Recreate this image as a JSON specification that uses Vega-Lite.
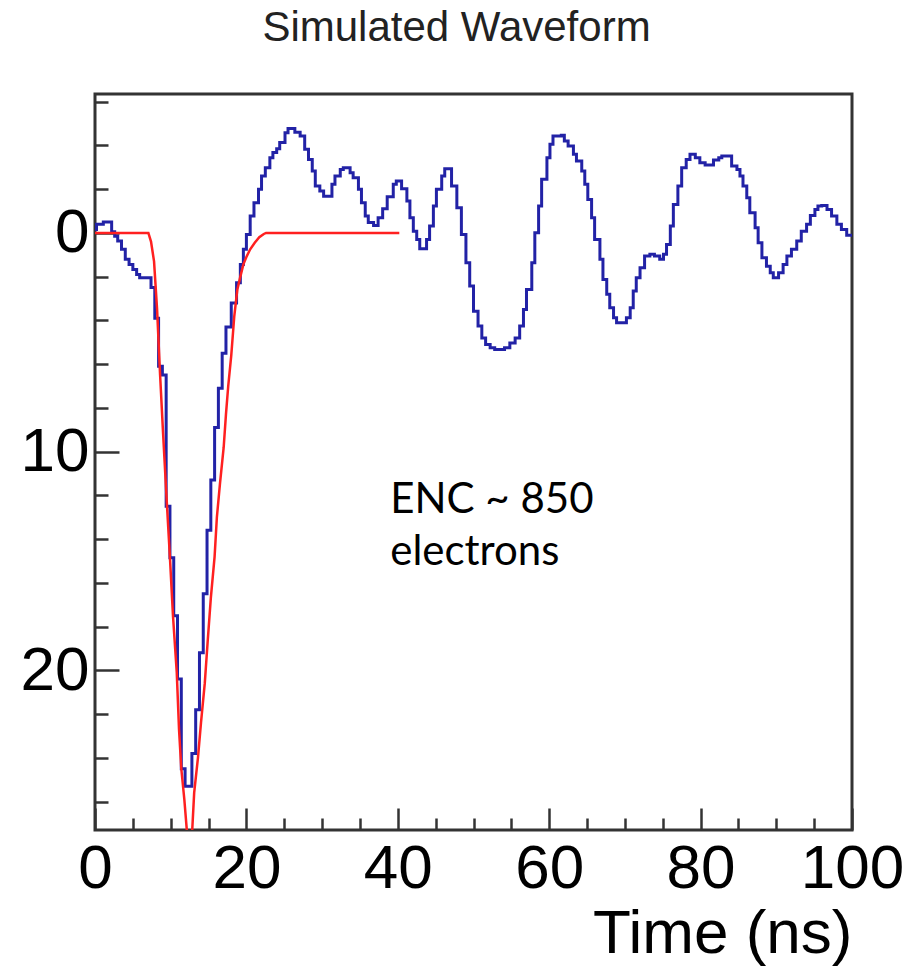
{
  "$schema": "https://vega.github.io/schema/vega-lite/v6.json",
  "width": 757,
  "height": 736,
  "autosize": "none",
  "padding": {"left": 95, "top": 94, "right": 72, "bottom": 137},
  "background": "white",
  "title": {"text": "Simulated Waveform", "font": "Liberation Sans", "fontSize": 42, "fontWeight": "normal", "color": "#222", "anchor": "middle", "dx": -17, "baseline": "bottom", "offset": 2},
  "config": {
    "view": {"stroke": "#333", "strokeWidth": 3},
    "axis": {"domain": false, "grid": false, "tickColor": "#333", "tickWidth": 2.5, "labelFont": "Liberation Sans", "labelColor": "#000"}
  },
  "datasets": {
    "blue": [
      {"t":0,"a":-0.16},{"t":0.2,"a":-0.39},{"t":1.1,"a":-0.5},{"t":2.2,"a":-0.05},{"t":2.6,"a":0.15},{"t":3.0,"a":0.37},{"t":3.5,"a":0.75},{"t":4.0,"a":1.21},{"t":4.5,"a":1.44},{"t":5.0,"a":1.67},{"t":5.5,"a":1.9},{"t":5.9,"a":2.05},{"t":7.4,"a":2.5},{"t":7.9,"a":3.9},{"t":8.4,"a":6.1},{"t":8.9,"a":6.5},{"t":9.4,"a":12.5},{"t":9.9,"a":14.85},{"t":10.4,"a":17.5},{"t":10.9,"a":20.4},{"t":11.4,"a":24.5},{"t":11.9,"a":25.3},{"t":12.8,"a":23.8},{"t":13.3,"a":21.8},{"t":13.8,"a":19.2},{"t":14.3,"a":16.5},{"t":14.8,"a":13.6},{"t":15.3,"a":11.3},{"t":15.8,"a":8.9},{"t":16.3,"a":7.1},{"t":16.8,"a":5.5},{"t":17.3,"a":4.3},{"t":18.0,"a":3.2},{"t":18.7,"a":2.28},{"t":19.2,"a":1.44},{"t":19.6,"a":0.75},{"t":20.0,"a":0.07},{"t":20.5,"a":-0.77},{"t":21.0,"a":-1.38},{"t":21.6,"a":-1.99},{"t":22.0,"a":-2.6},{"t":22.5,"a":-2.98},{"t":23.1,"a":-3.44},{"t":23.5,"a":-3.67},{"t":24.0,"a":-3.85},{"t":24.4,"a":-4.13},{"t":25.1,"a":-4.58},{"t":25.5,"a":-4.77},{"t":26.4,"a":-4.6},{"t":27.1,"a":-4.43},{"t":27.7,"a":-3.82},{"t":28.2,"a":-3.36},{"t":28.7,"a":-2.83},{"t":29.1,"a":-2.14},{"t":29.7,"a":-1.91},{"t":30.2,"a":-1.68},{"t":31.3,"a":-2.22},{"t":31.7,"a":-2.6},{"t":32.4,"a":-2.9},{"t":32.8,"a":-2.98},{"t":33.7,"a":-2.75},{"t":34.1,"a":-2.52},{"t":34.8,"a":-1.99},{"t":35.2,"a":-1.38},{"t":35.7,"a":-0.77},{"t":36.1,"a":-0.47},{"t":36.8,"a":-0.34},{"t":37.4,"a":-0.69},{"t":38.0,"a":-1.1},{"t":38.6,"a":-1.65},{"t":39.4,"a":-2.22},{"t":39.8,"a":-2.37},{"t":40.5,"a":-2.02},{"t":41.2,"a":-1.46},{"t":41.6,"a":-0.69},{"t":42.05,"a":-0.08},{"t":42.5,"a":0.3},{"t":42.9,"a":0.72},{"t":43.8,"a":0.3},{"t":44.2,"a":-0.31},{"t":44.7,"a":-1.23},{"t":45.1,"a":-1.99},{"t":45.8,"a":-2.6},{"t":46.2,"a":-2.93},{"t":47.1,"a":-2.14},{"t":47.8,"a":-1.15},{"t":48.4,"a":0.07},{"t":49.0,"a":1.37},{"t":49.5,"a":2.43},{"t":50.0,"a":3.58},{"t":50.6,"a":4.26},{"t":51.1,"a":4.8},{"t":51.6,"a":5.1},{"t":52.2,"a":5.25},{"t":52.8,"a":5.33},{"t":54.1,"a":5.25},{"t":54.8,"a":5.03},{"t":55.5,"a":4.8},{"t":56.1,"a":4.26},{"t":56.6,"a":3.5},{"t":57.0,"a":2.59},{"t":57.7,"a":1.37},{"t":58.1,"a":-0.01},{"t":58.6,"a":-1.23},{"t":59.0,"a":-2.45},{"t":59.7,"a":-3.44},{"t":60.1,"a":-4.05},{"t":60.5,"a":-4.43},{"t":61.6,"a":-4.46},{"t":62.0,"a":-4.2},{"t":62.5,"a":-3.97},{"t":63.2,"a":-3.59},{"t":63.6,"a":-3.29},{"t":64.3,"a":-2.83},{"t":64.7,"a":-2.22},{"t":65.1,"a":-1.53},{"t":65.6,"a":-0.69},{"t":66.0,"a":0.3},{"t":66.7,"a":1.21},{"t":67.1,"a":2.13},{"t":67.6,"a":2.81},{"t":68.0,"a":3.42},{"t":68.5,"a":3.88},{"t":68.9,"a":4.11},{"t":70.2,"a":3.88},{"t":70.7,"a":3.42},{"t":71.1,"a":2.66},{"t":71.5,"a":2.05},{"t":72.0,"a":1.59},{"t":72.6,"a":1.06},{"t":73.3,"a":0.98},{"t":73.9,"a":1.06},{"t":74.6,"a":1.21},{"t":75.1,"a":0.98},{"t":75.5,"a":0.53},{"t":76.0,"a":-0.31},{"t":76.4,"a":-1.3},{"t":77.0,"a":-2.14},{"t":77.5,"a":-2.98},{"t":78.1,"a":-3.36},{"t":78.6,"a":-3.59},{"t":79.3,"a":-3.44},{"t":79.9,"a":-3.21},{"t":80.6,"a":-3.1},{"t":81.7,"a":-3.33},{"t":82.4,"a":-3.44},{"t":82.8,"a":-3.52},{"t":84.1,"a":-3.06},{"t":84.8,"a":-2.9},{"t":85.2,"a":-2.6},{"t":85.6,"a":-2.14},{"t":86.1,"a":-1.61},{"t":86.5,"a":-0.92},{"t":87.2,"a":-0.24},{"t":87.6,"a":0.45},{"t":88.1,"a":1.14},{"t":88.7,"a":1.52},{"t":89.2,"a":1.82},{"t":89.6,"a":2.05},{"t":90.3,"a":1.82},{"t":90.9,"a":1.44},{"t":91.4,"a":1.06},{"t":92.0,"a":0.75},{"t":92.7,"a":0.37},{"t":93.3,"a":-0.08},{"t":94.0,"a":-0.39},{"t":94.5,"a":-0.8},{"t":95.1,"a":-1.07},{"t":95.5,"a":-1.23},{"t":96.0,"a":-1.25},{"t":96.7,"a":-1.07},{"t":97.3,"a":-0.77},{"t":98.0,"a":-0.39},{"t":98.6,"a":-0.16},{"t":99.3,"a":0.11},{"t":100,"a":0.11}
    ],
    "red": [
      {"t":0,"a":0},{"t":7.05,"a":0},{"t":7.4,"a":0.4},{"t":7.8,"a":1.3},{"t":8.2,"a":3.5},{"t":8.6,"a":6.5},{"t":9.0,"a":9.2},{"t":9.45,"a":12.1},{"t":9.9,"a":14.85},{"t":10.3,"a":17.5},{"t":10.8,"a":20.1},{"t":11.1,"a":22.7},{"t":11.4,"a":24.5},{"t":11.8,"a":25.9},{"t":12.2,"a":27.6},{"t":12.5,"a":28.3},{"t":12.8,"a":27.6},{"t":13.1,"a":25.6},{"t":13.6,"a":24.0},{"t":14.0,"a":22.4},{"t":14.5,"a":20.6},{"t":14.9,"a":18.6},{"t":15.3,"a":16.7},{"t":15.8,"a":14.8},{"t":16.1,"a":13.0},{"t":16.5,"a":11.5},{"t":17.0,"a":9.8},{"t":17.3,"a":8.3},{"t":17.6,"a":7.0},{"t":18.0,"a":5.6},{"t":18.4,"a":3.8},{"t":18.8,"a":2.6},{"t":19.2,"a":2.0},{"t":19.6,"a":1.44},{"t":20.0,"a":1.1},{"t":20.5,"a":0.75},{"t":21.1,"a":0.45},{"t":21.7,"a":0.2},{"t":22.3,"a":0.05},{"t":22.6,"a":0},{"t":40.2,"a":0}
    ],
    "note": [
      {"t":39,"a":12.8,"lines":["ENC ~ 850","electrons"]}
    ]
  },
  "encoding": {
    "x": {"field": "t", "type": "quantitative",
      "scale": {"domain": [0, 100], "nice": false, "zero": false},
      "axis": {"values": [0,5,10,15,20,25,30,35,40,45,50,55,60,65,70,75,80,85,90,95,100],
        "labelExpr": "datum.value % 20 === 0 ? datum.label : ''",
        "labelFontSize": {"condition": {"test": "datum.value % 20 === 0", "value": 62}, "value": 0},
        "tickSize": {"condition": {"test": "datum.value % 20 === 0", "value": -22}, "value": -12},
        "labelPadding": 30, "labelFlush": false, "labelOverlap": false, "labelBound": false,
        "title": "Time (ns)", "titleFont": "Liberation Sans", "titleFontSize": 62, "titleFontWeight": "normal", "titleColor": "#000", "titleAnchor": "end", "titlePadding": 4}},
    "y": {"field": "a", "type": "quantitative",
      "scale": {"domain": [-6.35, 27.3], "reverse": true, "nice": false, "zero": false},
      "axis": {"values": [-6,-4,-2,0,2,4,6,8,10,12,14,16,18,20,22,24,26],
        "labelExpr": "datum.value % 10 === 0 ? datum.label : ''",
        "labelFontSize": {"condition": {"test": "datum.value % 10 === 0", "value": 62}, "value": 0},
        "tickSize": {"condition": {"test": "datum.value % 10 === 0", "value": -24}, "value": -13},
        "labelPadding": 30, "labelOverlap": false, "labelBound": false, "title": null}}
  },
  "layer": [
    {"data": {"name": "blue"}, "mark": {"type": "line", "interpolate": "step-after", "color": "#2222a6", "strokeWidth": 3, "clip": true}},
    {"data": {"name": "red"}, "mark": {"type": "line", "color": "#ff2020", "strokeWidth": 2.5, "clip": true}},
    {"data": {"name": "note"}, "mark": {"type": "text", "align": "left", "baseline": "alphabetic", "font": "Lato", "fontSize": 42, "lineHeight": 52, "color": "#000"},
      "encoding": {"text": {"field": "lines"}}}
  ]
}
